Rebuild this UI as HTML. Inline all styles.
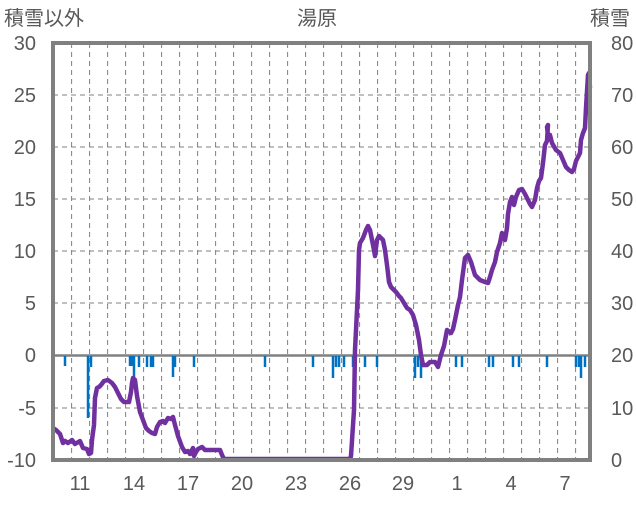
<!DOCTYPE html>
<html><head><meta charset="utf-8"><style>
body{margin:0;background:#fff;}
svg text{font-family:"Liberation Sans","Noto Sans CJK JP",sans-serif;fill:#595959;}
</style></head><body>
<svg width="636" height="501" viewBox="0 0 636 501" xmlns="http://www.w3.org/2000/svg">
<g stroke="#808080" stroke-width="1" stroke-dasharray="5,4">
<line x1="53" x2="590" y1="95" y2="95"/><line x1="53" x2="590" y1="147" y2="147"/>
<line x1="53" x2="590" y1="199" y2="199"/><line x1="53" x2="590" y1="251" y2="251"/>
<line x1="53" x2="590" y1="303" y2="303"/><line x1="53" x2="590" y1="408" y2="408"/>
<line x1="71.6" x2="71.6" y1="43" y2="460"/><line x1="89.6" x2="89.6" y1="43" y2="460"/>
<line x1="107.6" x2="107.6" y1="43" y2="460"/><line x1="125.6" x2="125.6" y1="43" y2="460"/>
<line x1="143.6" x2="143.6" y1="43" y2="460"/><line x1="161.6" x2="161.6" y1="43" y2="460"/>
<line x1="179.6" x2="179.6" y1="43" y2="460"/><line x1="197.6" x2="197.6" y1="43" y2="460"/>
<line x1="215.6" x2="215.6" y1="43" y2="460"/><line x1="233.6" x2="233.6" y1="43" y2="460"/>
<line x1="251.6" x2="251.6" y1="43" y2="460"/><line x1="269.6" x2="269.6" y1="43" y2="460"/>
<line x1="287.6" x2="287.6" y1="43" y2="460"/><line x1="305.6" x2="305.6" y1="43" y2="460"/>
<line x1="323.6" x2="323.6" y1="43" y2="460"/><line x1="341.6" x2="341.6" y1="43" y2="460"/>
<line x1="359.6" x2="359.6" y1="43" y2="460"/><line x1="377.6" x2="377.6" y1="43" y2="460"/>
<line x1="395.6" x2="395.6" y1="43" y2="460"/><line x1="413.6" x2="413.6" y1="43" y2="460"/>
<line x1="431.6" x2="431.6" y1="43" y2="460"/><line x1="449.6" x2="449.6" y1="43" y2="460"/>
<line x1="467.6" x2="467.6" y1="43" y2="460"/><line x1="485.6" x2="485.6" y1="43" y2="460"/>
<line x1="503.6" x2="503.6" y1="43" y2="460"/><line x1="521.6" x2="521.6" y1="43" y2="460"/>
<line x1="539.6" x2="539.6" y1="43" y2="460"/><line x1="557.6" x2="557.6" y1="43" y2="460"/>
<line x1="575.6" x2="575.6" y1="43" y2="460"/>
</g>
<line x1="53" x2="590" y1="355.5" y2="355.5" stroke="#808080" stroke-width="2.5"/>
<g stroke="#0070c0" stroke-width="2.5">
<line x1="65" x2="65" y1="356" y2="366"/><line x1="88" x2="88" y1="356" y2="418"/>
<line x1="91" x2="91" y1="356" y2="367"/><line x1="130" x2="130" y1="356" y2="366"/>
<line x1="132" x2="132" y1="356" y2="366"/><line x1="134" x2="134" y1="356" y2="377"/>
<line x1="139" x2="139" y1="356" y2="367"/><line x1="147" x2="147" y1="356" y2="367"/>
<line x1="151" x2="151" y1="356" y2="367"/><line x1="153" x2="153" y1="356" y2="367"/>
<line x1="173" x2="173" y1="356" y2="377"/><line x1="175" x2="175" y1="356" y2="367"/>
<line x1="194" x2="194" y1="356" y2="367"/><line x1="265" x2="265" y1="356" y2="367"/>
<line x1="313" x2="313" y1="356" y2="367"/><line x1="333" x2="333" y1="356" y2="378"/>
<line x1="336" x2="336" y1="356" y2="367"/><line x1="339" x2="339" y1="356" y2="367"/>
<line x1="344" x2="344" y1="356" y2="367"/><line x1="353" x2="353" y1="356" y2="367"/>
<line x1="365" x2="365" y1="356" y2="367"/><line x1="377" x2="377" y1="356" y2="367"/>
<line x1="415" x2="415" y1="356" y2="378"/><line x1="418" x2="418" y1="356" y2="367"/>
<line x1="421" x2="421" y1="356" y2="378"/><line x1="456" x2="456" y1="356" y2="367"/>
<line x1="462" x2="462" y1="356" y2="367"/><line x1="489" x2="489" y1="356" y2="367"/>
<line x1="493" x2="493" y1="356" y2="367"/><line x1="513" x2="513" y1="356" y2="367"/>
<line x1="519" x2="519" y1="356" y2="367"/><line x1="547" x2="547" y1="356" y2="367"/>
<line x1="576" x2="576" y1="356" y2="367"/><line x1="579" x2="579" y1="356" y2="367"/>
<line x1="581" x2="581" y1="356" y2="378"/><line x1="585" x2="585" y1="356" y2="367"/>
</g>
<polyline fill="none" stroke="#7030a0" stroke-width="4.5" stroke-linejoin="round" points="
53,428 56,430 60,434 63,443 65,441 68,443 72,440 75,444 80,441 83,448 87,449 89,454 91,453 92,440 94,425 95,398 97,388 99,387 101,385 104,381 108,380 112,383 115,387 118,393 121,399 124,402 129,402 131,392 132,383 133,378 135,380 137,396 140,412 143,420 146,428 149,431 152,433 155,434 157,427 160,422 163,421 165,423 168,418 171,419 173,417 175,425 178,436 182,447 185,452 188,451 190,454 193,448 194,456 196,452 198,449 202,447 205,450 220,450 222,455 224,459 350,459
351,456 354,410 355,350 358,290 359,250 360,243 363,238 366,230 368,226 370,230 372,240 374,250 375,256 377,240 379,236 383,240 385,250 387,265 389,282 391,287 394,290 396,292 399,296 401,298 404,303 407,308 410,310 413,315 416,325 419,340 421,355 423,365 427,365 430,362 435,362 438,367 441,355 444,346 447,330 451,333 453,329 455,320 458,305 460,297 462,280 465,258 468,255 471,262 475,275 480,280 485,282 488,283 490,277 492,270 495,262 497,252 500,243 502,233 505,240 507,228 508,214 510,202 512,197 514,205 516,197 519,190 522,189 525,194 528,200 530,204 532,207 535,200 537,188 539,181 541,178 543,163 545,145 547,141 548,125 547,127 548,135 550,135 552,143 556,150 560,153 563,160 566,167 569,170 572,172 574,169 576,161 578,157 580,153 581,140 583,133 585,128 586,108 588,75 589,73 590,88"/>
<rect x="53" y="43" width="537" height="417" fill="none" stroke="#808080" stroke-width="4"/>
<g font-size="20" text-anchor="end">
<text x="36" y="50">30</text><text x="36" y="102">25</text><text x="36" y="154">20</text>
<text x="36" y="206">15</text><text x="36" y="258">10</text><text x="36" y="310">5</text>
<text x="36" y="362">0</text><text x="36" y="415">-5</text><text x="36" y="467">-10</text>
</g>
<g font-size="20" text-anchor="start">
<text x="611" y="50">80</text><text x="611" y="102">70</text><text x="611" y="154">60</text>
<text x="611" y="206">50</text><text x="611" y="258">40</text><text x="611" y="310">30</text>
<text x="611" y="362">20</text><text x="611" y="415">10</text><text x="611" y="467">0</text>
</g>
<g font-size="20" text-anchor="middle">
<text x="80" y="490">11</text><text x="134" y="490">14</text><text x="188" y="490">17</text>
<text x="242" y="490">20</text><text x="296" y="490">23</text><text x="350" y="490">26</text>
<text x="403" y="490">29</text><text x="457" y="490">1</text><text x="511" y="490">4</text>
<text x="565" y="490">7</text>
</g>
<text x="4" y="25" font-size="20">積雪以外</text>
<text x="317" y="25" font-size="20" text-anchor="middle">湯原</text>
<text x="590" y="25" font-size="20">積雪</text>
</svg>
</body></html>
